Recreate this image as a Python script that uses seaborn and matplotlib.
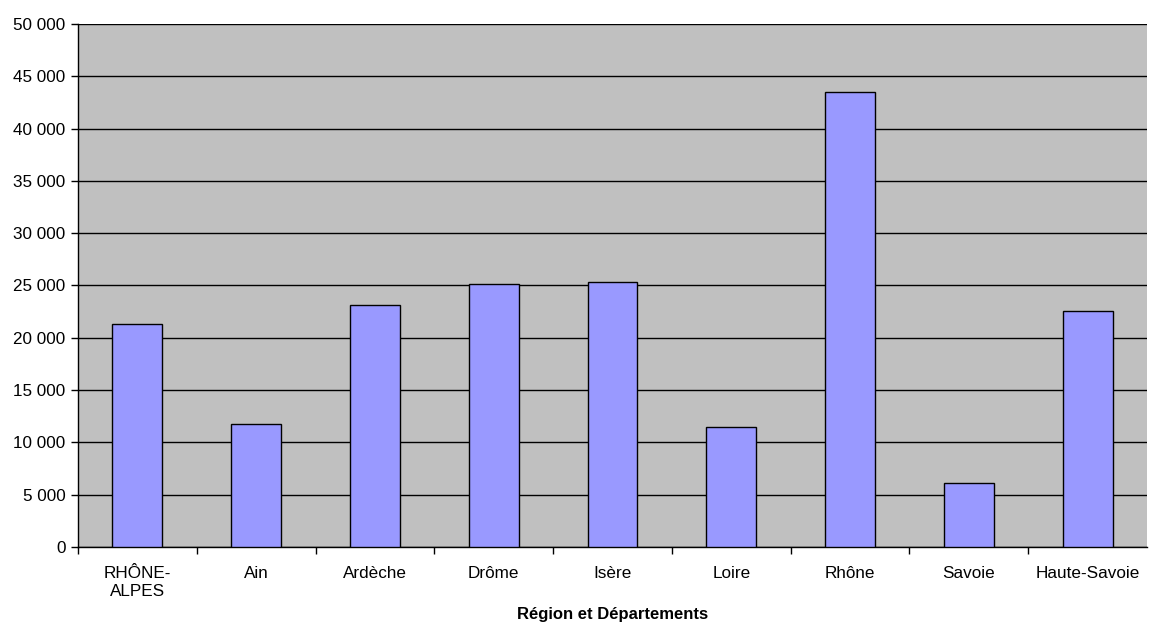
import matplotlib
matplotlib.use("Agg")
import matplotlib.pyplot as plt
from matplotlib.ticker import FuncFormatter, FixedLocator
import seaborn as sns
import pandas as pd

categories = ["RHÔNE-\nALPES", "Ain", "Ardèche", "Drôme", "Isère", "Loire", "Rhône", "Savoie", "Haute-Savoie"]
values = [21300, 11800, 23100, 25100, 25350, 11450, 43500, 6100, 22600]
yticks = list(range(0, 50001, 5000))

df = pd.DataFrame({"cat": categories, "val": values})

sns.set_style("white")
plt.rcParams["font.family"] = ["Liberation Sans", "DejaVu Sans"]
plt.rcParams["text.color"] = "black"
plt.rcParams["xtick.color"] = "black"
plt.rcParams["ytick.color"] = "black"
plt.rcParams["axes.labelcolor"] = "black"

fig = plt.figure(figsize=(11.63, 6.35), dpi=100)
ax = fig.add_axes([0.0671, 0.1386, 0.9862 - 0.0671, 0.9622 - 0.1386])
ax.set_facecolor("#C0C0C0")

sns.barplot(data=df, x="cat", y="val", color="#9999FF", width=0.42,
            edgecolor="black", linewidth=1, saturation=1, ax=ax, zorder=3)

ax.set_ylim(0, 50000)
ax.set_xlim(-0.5, len(categories) - 0.5)
ax.set_yticks(yticks)
ax.yaxis.set_major_formatter(FuncFormatter(lambda v, p: "{:,}".format(int(v)).replace(",", " ")))
ax.yaxis.grid(True, color="black", linewidth=1, zorder=0)
ax.set_axisbelow(True)

# ticks between categories
ax.xaxis.set_minor_locator(FixedLocator([i + 0.5 for i in range(-1, len(categories) - 1)]))
ax.tick_params(axis="x", which="major", length=0, pad=14, labelsize=12.3)
ax.tick_params(axis="x", which="minor", length=5, width=1, color="black", direction="out", bottom=True)
ax.tick_params(axis="y", length=5, width=1, color="black", direction="out", left=True, pad=4, labelsize=12.3)

for s in ["top", "right"]:
    ax.spines[s].set_visible(False)
for s in ["left", "bottom"]:
    ax.spines[s].set_color("black")
    ax.spines[s].set_linewidth(1)

ax.set_ylabel("")
ax.set_xlabel("Région et Départements", fontsize=12, fontweight="bold", labelpad=6)

fig.savefig("out.png", dpi=100)
